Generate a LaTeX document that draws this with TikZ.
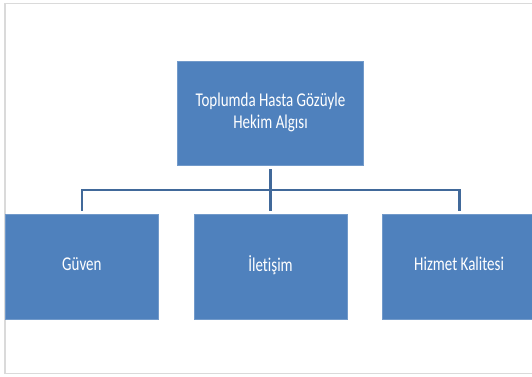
\documentclass[tikz,border=0pt]{standalone}
\usepackage{fontspec}
\usepackage{graphicx}
\setmainfont{Carlito}[Ligatures=NoCommon]
\usetikzlibrary{positioning}
\definecolor{boxblue}{HTML}{4F81BD}
\definecolor{linkblue}{HTML}{41699A}
\definecolor{framegray}{HTML}{DADADA}
% text in the reference is drawn a little taller than wide
\newcommand\talltext[1]{\scalebox{1}[1.3]{\begin{tabular}{@{}c@{}}#1\end{tabular}}}
\tikzset{
  box/.style={fill=boxblue,draw=boxblue!80!white,line width=0.6pt,text=white,
    align=center,inner sep=0pt,font=\fontsize{15}{16.7}\selectfont},
  leaf/.style={box,minimum width=153pt,minimum height=105pt},
  link/.style={draw=linkblue,line width=2.8pt}
}
\begin{document}
\begin{tikzpicture}[x=1pt,y=1pt]
  \useasboundingbox (0,0) rectangle (532,376);
  \clip (0,0) rectangle (532,376);
  \draw [framegray,line width=1.6pt] (5,372.5) -- (545,372.5) (5,372.5) -- (5,2.5) -- (545,2.5);
  \node [box,minimum width=185.5pt,minimum height=104pt] (top) at (270.5,263)
    {\talltext{Toplumda Hasta Gözüyle\\Hekim Algısı}};
  \matrix (row) [column sep=35pt,nodes=leaf] at (270.5,109.5)
  {
    \node (guven) {\talltext{Güven}}; & \node (iletisim) {\talltext{İletişim}}; & \node (hizmet) {\talltext{Hizmet Kalitesi}}; \\
  };
  \coordinate (bus) at (270.5,186);
  \draw [link] ([yshift=-4pt]top.south) -- (top.south |- bus);
  \foreach \n in {guven,iletisim,hizmet}
    \draw [link] ([yshift=3pt]\n.north) |- (bus);
\end{tikzpicture}
\end{document}
